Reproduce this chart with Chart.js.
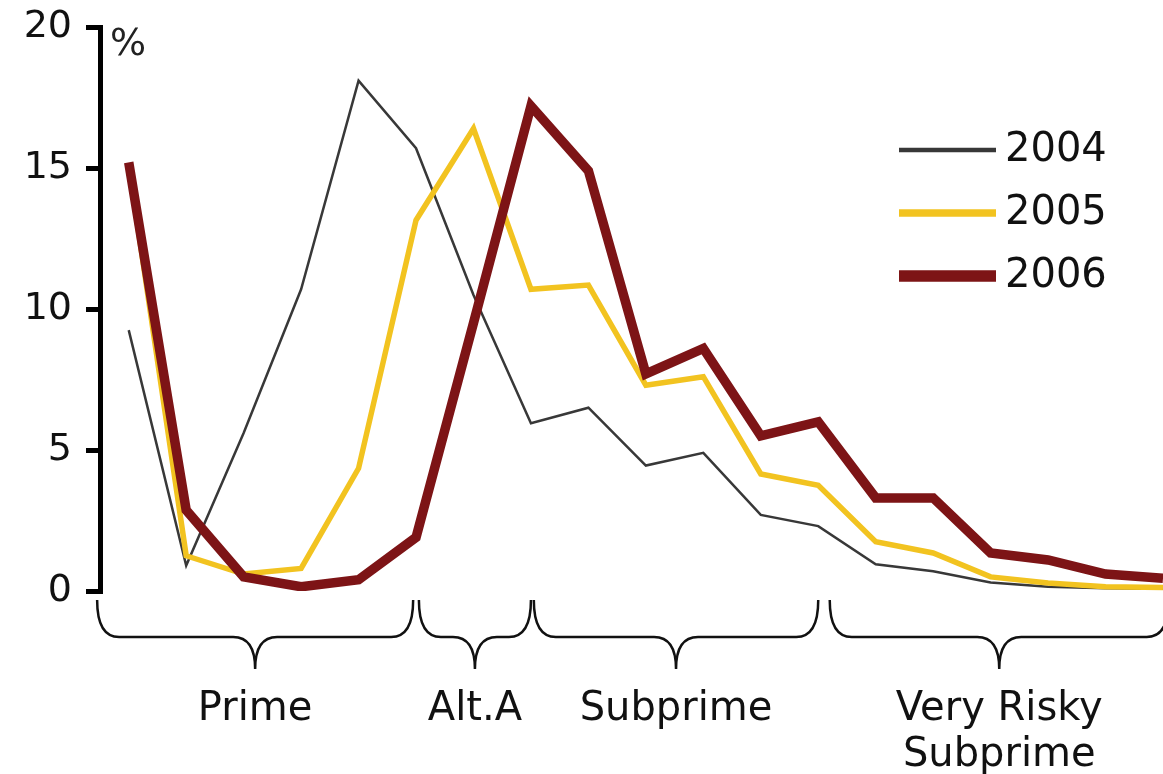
<!DOCTYPE html>
<html>
<head>
<meta charset="utf-8">
<script src="https://cdn.jsdelivr.net/npm/chart.js@4.4.0/dist/chart.umd.min.js"></script>
<style>
  html, body { margin: 0; padding: 0; background: #fff; }
  #wrap { width: 1163px; height: 774px; position: relative; }
</style>
</head>
<body>
<div id="wrap"><canvas id="chart"></canvas></div>
<script>
// share of mortgage originations by risk bucket, %
const buckets = [0, 1, 2, 3, 4, 5, 6, 7, 8, 9, 10, 11, 12, 13, 14, 15, 16, 17, 18]
const years = ['2004', '2005', '2006']
const y2004 = [9.25, 0.9, 5.6, 10.7, 18.1, 15.7, 10.5, 5.95, 6.5, 4.45, 4.9, 2.7, 2.3, 0.95, 0.7, 0.3, 0.15, 0.1, 0.08]
const y2005 = [15.1, 1.25, 0.6, 0.8, 4.35, 13.15, 16.4, 10.7, 10.85, 7.3, 7.6, 4.15, 3.75, 1.75, 1.35, 0.5, 0.28, 0.15, 0.12]
const y2006 = [15.2, 2.87, 0.5, 0.15, 0.4, 1.9, 9.5, 17.2, 14.9, 7.7, 8.6, 5.5, 6.0, 3.3, 3.3, 1.35, 1.1, 0.6, 0.45]
const yTicks = [0, 5, 10, 15, 20]

// brace groups along the x axis (bucket index ranges)
const groupNames = ['Prime', 'Alt.A', 'Subprime', 'Very Risky\nSubprime']
const groupFrom = [-0.55, 5.05, 7.05, 12.2]
const groupTo = [4.95, 7, 12, 18.1]

const FONT = '"DejaVu Sans", Verdana, sans-serif'

const toPoints = (vals) => vals.map((v, i) => ({ x: buckets[i], y: v }))

function drawBrace(ctx, x1, x2, yTop, yMid, yTip, r) {
  const xm = (x1 + x2) / 2
  ctx.beginPath()
  ctx.moveTo(x1, yTop)
  ctx.quadraticCurveTo(x1, yMid, x1 + r, yMid)
  ctx.lineTo(xm - r, yMid)
  ctx.quadraticCurveTo(xm, yMid, xm, yTip)
  ctx.moveTo(x2, yTop)
  ctx.quadraticCurveTo(x2, yMid, x2 - r, yMid)
  ctx.lineTo(xm + r, yMid)
  ctx.quadraticCurveTo(xm, yMid, xm, yTip)
  ctx.stroke()
}

const extras = {
  id: 'extras',
  afterDraw(chart) {
    const ctx = chart.ctx
    const xs = chart.scales.x
    ctx.save()
    // unit label
    ctx.fillStyle = '#222'
    ctx.font = '38px ' + FONT
    ctx.textAlign = 'left'
    ctx.textBaseline = 'alphabetic'
    ctx.fillText('%', 110, 55)

    // braces + group names
    ctx.strokeStyle = '#111'
    ctx.lineWidth = 2.5
    ctx.fillStyle = '#111'
    ctx.font = '40px ' + FONT
    ctx.textAlign = 'center'
    groupNames.forEach((name, i) => {
      const x1 = xs.getPixelForValue(groupFrom[i])
      const x2 = xs.getPixelForValue(groupTo[i])
      drawBrace(ctx, x1, x2, 600, 637, 669, 22)
      const lines = name.split('\n')
      lines.forEach((ln, j) => {
        ctx.fillText(ln, (x1 + x2) / 2, 720 + j * 46)
      })
    })

    // legend
    ctx.textAlign = 'left'
    ctx.textBaseline = 'middle'
    chart.data.datasets.forEach((ds, i) => {
      const y = 150 + i * 63
      ctx.strokeStyle = ds.borderColor
      ctx.lineWidth = ds.borderWidth + 2
      ctx.beginPath()
      ctx.moveTo(899, y)
      ctx.lineTo(996, y)
      ctx.stroke()
      ctx.fillStyle = '#111'
      ctx.fillText(ds.label, 1005, y + 1)
    })
    ctx.restore()
  }
}

new Chart(document.getElementById('chart'), {
  type: 'line',
  data: {
    datasets: [
      { label: years[0], data: toPoints(y2004), borderColor: '#383838', borderWidth: 2.5, order: 3 },
      { label: years[1], data: toPoints(y2005), borderColor: '#f2c320', borderWidth: 5.5, order: 2 },
      { label: years[2], data: toPoints(y2006), borderColor: '#7d1416', borderWidth: 9.5, order: 1 }
    ]
  },
  options: {
    responsive: true,
    maintainAspectRatio: false,
    animation: false,
    layout: { padding: { top: 27, right: 0, bottom: 183, left: 0 } },
    elements: {
      point: { radius: 0 },
      line: { tension: 0, borderJoinStyle: 'miter', borderCapStyle: 'butt', fill: false }
    },
    plugins: {
      legend: { display: false },
      tooltip: { enabled: false }
    },
    scales: {
      x: {
        type: 'linear',
        min: -0.5,
        max: 18,
        display: false
      },
      y: {
        min: 0,
        max: 20,
        afterFit(scale) {
          scale.width = 100
          scale.paddingTop = 0
          scale.paddingBottom = 0
        },
        afterBuildTicks(scale) { scale.ticks = yTicks.map(v => ({ value: v })) },
        border: { display: true, color: '#000', width: 5 },
        grid: { drawOnChartArea: false, drawTicks: true, tickLength: 14, color: '#000', lineWidth: 5 },
        ticks: { color: '#111', font: { family: FONT, size: 38 }, padding: 14 }
      }
    }
  },
  plugins: [extras]
})
</script>
</body>
</html>
